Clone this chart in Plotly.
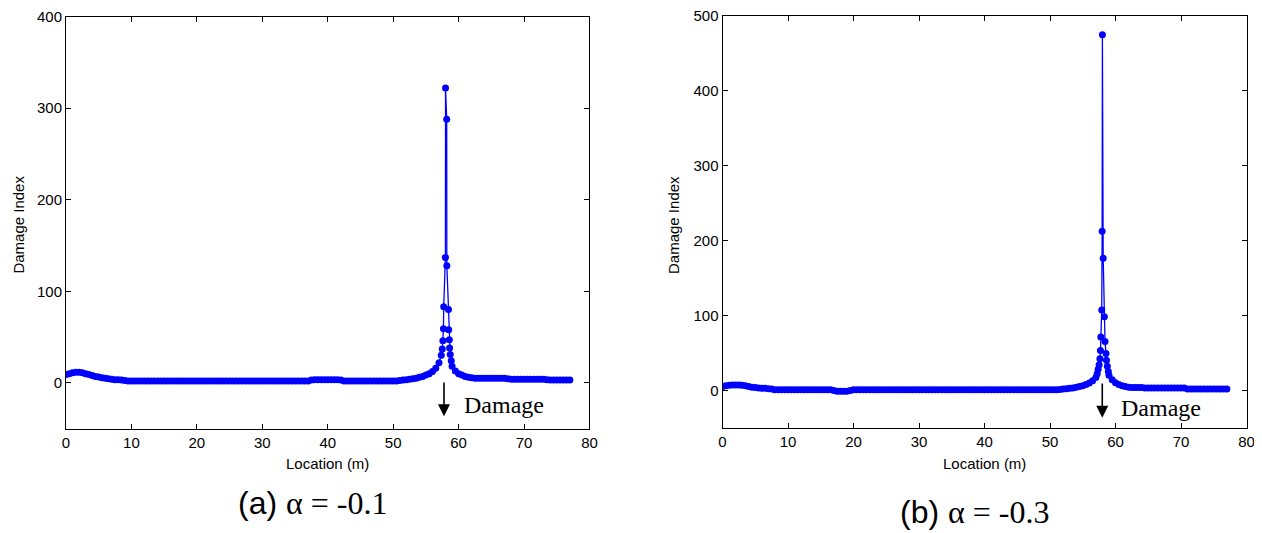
import plotly.graph_objects as go

# ---------------- data ----------------
# sample locations (m) before and after the damage peak
loc_pre = [0, 0.5, 1, 1.5, 2, 2.5, 3, 3.5, 4, 4.5, 5, 5.5, 6, 6.5, 7, 7.5, 8, 8.5, 9, 9.5,
           10, 10.5, 11, 11.5, 12, 12.5, 13, 13.5, 14, 14.5, 15, 15.5, 16, 16.5, 17, 17.5, 18, 18.5, 19, 19.5,
           20, 20.5, 21, 21.5, 22, 22.5, 23, 23.5, 24, 24.5, 25, 25.5, 26, 26.5, 27, 27.5, 28, 28.5, 29, 29.5,
           30, 30.5, 31, 31.5, 32, 32.5, 33, 33.5, 34, 34.5, 35, 35.5, 36, 36.5, 37, 37.5, 38, 38.5, 39, 39.5,
           40, 40.5, 41, 41.5, 42, 42.5, 43, 43.5, 44, 44.5, 45, 45.5, 46, 46.5, 47, 47.5, 48, 48.5, 49, 49.5,
           50, 50.5, 51, 51.5, 52, 52.5, 53, 53.5, 54, 54.5, 55, 55.5, 56, 56.5, 57]
loc_post = [59, 59.5, 60, 60.5, 61, 61.5, 62, 62.5, 63, 63.5, 64, 64.5, 65, 65.5, 66, 66.5, 67, 67.5,
            68, 68.5, 69, 69.5, 70, 70.5, 71, 71.5, 72, 72.5, 73, 73.5, 74, 74.5, 75, 75.5, 76, 76.5, 77]

# (a) alpha = -0.1
di_a_pre = [9, 10, 11, 11.5, 11.5, 11, 10, 9, 8, 7, 6.5, 5.5, 5, 4.5, 4, 3.5, 3.5, 3, 2.5, 2,
            2, 2, 2, 2, 2, 2, 2, 2, 2, 2, 2, 2, 2, 2, 2, 2, 2, 2, 2, 2,
            2, 2, 2, 2, 2, 2, 2, 2, 2, 2, 2, 2, 2, 2, 2, 2, 2, 2, 2, 2,
            2, 2, 2, 2, 2, 2, 2, 2, 2, 2, 2, 2, 2, 2, 2, 3, 3.5, 3.5, 3.5, 3.5,
            3.5, 3.5, 3.5, 3.5, 3, 2, 2, 2, 2, 2, 2, 2, 2, 2, 2, 2, 2, 2, 2, 2,
            2, 2, 2.5, 3, 3.5, 4, 4.5, 5, 6, 7, 8.5, 10, 12.5, 16, 22]
peak_loc_a = [57.35, 57.5, 57.6, 57.68, 57.72, 57.98, 58.0, 58.18, 58.2, 58.45, 58.48, 58.58, 58.62, 58.72, 58.88]
peak_di_a = [30, 37, 46, 59, 83, 137, 322, 288, 128, 80, 58, 47, 38, 31, 24]
di_a_post = [18, 13, 10, 8.5, 7, 6, 5.5, 5, 5, 5, 5, 5, 5, 5, 5, 5, 5, 4.5,
             4, 4, 4, 4, 4, 4, 4, 4, 4, 4, 4, 3.5, 3, 3, 3, 3, 3, 3, 3]

# (b) alpha = -0.3
di_b_pre = [6, 7, 7.5, 8, 8, 8, 7.5, 7, 6, 5, 4.5, 4, 3.5, 3.5, 3, 2.5, 1.5, 1.5, 1.5, 1.5,
            1.5, 1.5, 1.5, 1.5, 1.5, 1.5, 1.5, 1.5, 1.5, 1.5, 1.5, 1.5, 1.5, 1.5, 0.5, -0.5, -0.5, -0.5, -0.5, 0.5,
            1.5, 1.5, 1.5, 1.5, 1.5, 1.5, 1.5, 1.5, 1.5, 1.5, 1.5, 1.5, 1.5, 1.5, 1.5, 1.5, 1.5, 1.5, 1.5, 1.5,
            1.5, 1.5, 1.5, 1.5, 1.5, 1.5, 1.5, 1.5, 1.5, 1.5, 1.5, 1.5, 1.5, 1.5, 1.5, 1.5, 1.5, 1.5, 1.5, 1.5,
            1.5, 1.5, 1.5, 1.5, 1.5, 1.5, 1.5, 1.5, 1.5, 1.5, 1.5, 1.5, 1.5, 1.5, 1.5, 1.5, 1.5, 1.5, 1.5, 1.5,
            1.5, 1.5, 1.5, 2, 2.5, 3, 3.5, 4, 5, 6, 7, 8.5, 10.5, 13.5, 18]
peak_loc_b = [57.2, 57.35, 57.5, 57.62, 57.7, 57.76, 57.9, 57.96, 58.0, 58.12, 58.3, 58.4, 58.55, 58.62, 58.75, 58.9]
peak_di_b = [23, 29, 35, 43, 54, 72, 108, 213, 475, 177, 99, 66, 50, 41, 33, 26]
di_b_post = [21, 15, 11, 8.5, 7, 6, 5, 4.5, 4.5, 4.5, 4.5,
             4, 4, 4, 4, 4, 4, 4, 4, 4, 4, 4, 4, 4,
             2.5, 2.5, 2.5, 2.5, 2.5, 2.5, 2.5, 2.5, 2.5, 2.5, 2.5, 2.5, 2.5]

x_ticks = [0, 10, 20, 30, 40, 50, 60, 70, 80]
y_ticks_a = [0, 100, 200, 300, 400]
y_ticks_b = [0, 100, 200, 300, 400, 500]

damage_loc_a = 57.76
damage_loc_b = 57.98

# ---------------- figure ----------------
BLUE = "#0000FF"
SANS = "Arial, Liberation Sans, sans-serif"
SERIF = "Times New Roman, Liberation Serif, serif"
W, H = 1254, 525   # page has an 8 px body margin; figure fills the rest of the window

x_a = loc_pre + peak_loc_a + loc_post
y_a = di_a_pre + peak_di_a + di_a_post
x_b = loc_pre + peak_loc_b + loc_post
y_b = di_b_pre + peak_di_b + di_b_post

fig = go.Figure()
fig.add_trace(go.Scatter(x=x_a, y=y_a, mode="lines+markers", xaxis="x", yaxis="y",
                         line=dict(color=BLUE, width=1.3),
                         marker=dict(color=BLUE, size=7), showlegend=False))
fig.add_trace(go.Scatter(x=x_b, y=y_b, mode="lines+markers", xaxis="x2", yaxis="y2",
                         line=dict(color=BLUE, width=1.3),
                         marker=dict(color=BLUE, size=7), showlegend=False))

axis_common = dict(showline=True, linecolor="black", linewidth=1, mirror="ticks",
                   ticks="inside", ticklen=5, tickcolor="black", tickwidth=1,
                   showgrid=False, zeroline=False, automargin=False,
                   ticklabeloverflow="allow",
                   tickfont=dict(family=SANS, size=15, color="black"))

fig.update_layout(
    width=W, height=H,
    margin=dict(l=0, r=0, t=0, b=0),
    paper_bgcolor="white", plot_bgcolor="white",
    font=dict(family=SANS, color="black"),
    xaxis=dict(domain=[0.046252, 0.463716], range=[0, 80], tickvals=x_ticks, anchor="y", **axis_common),
    yaxis=dict(domain=[0.198857, 0.983429], range=[-50, 400], tickvals=y_ticks_a, anchor="x", **axis_common),
    xaxis2=dict(domain=[0.569777, 0.987640], range=[0, 80], tickvals=x_ticks, anchor="y2", **axis_common),
    yaxis2=dict(domain=[0.199048, 0.984762], range=[-50, 500], tickvals=y_ticks_b, anchor="x2", **axis_common),
)

# axis titles
for xc in (0.25498, 0.77871):
    fig.add_annotation(x=xc, y=0.13333, xref="paper", yref="paper", text="Location (m)",
                       showarrow=False, xanchor="center", yanchor="middle",
                       font=dict(family=SANS, size=15, color="black"))
for xc in (0.008453, 0.53110):
    fig.add_annotation(x=xc, y=0.58667, xref="paper", yref="paper", text="Damage Index",
                       showarrow=False, xanchor="center", yanchor="middle", textangle=-90,
                       font=dict(family=SANS, size=15, color="black"))

# damage arrows
fig.add_annotation(x=damage_loc_a, y=-36.4, ax=damage_loc_a, ay=2, xref="x", yref="y",
                   axref="x", ayref="y", showarrow=True, arrowhead=2, arrowsize=1.5,
                   arrowwidth=1.6, arrowcolor="black", text="")
fig.add_annotation(x=damage_loc_b, y=-35.6, ax=damage_loc_b, ay=12, xref="x2", yref="y2",
                   axref="x2", ayref="y2", showarrow=True, arrowhead=2, arrowsize=1.5,
                   arrowwidth=1.6, arrowcolor="black", text="")
fig.add_annotation(x=66.95, y=-24.4, xref="x", yref="y", text="Damage", showarrow=False,
                   xanchor="center", yanchor="middle",
                   font=dict(family=SERIF, size=24, color="black"))
fig.add_annotation(x=66.9, y=-23.1, xref="x2", yref="y2", text="Damage", showarrow=False,
                   xanchor="center", yanchor="middle",
                   font=dict(family=SERIF, size=24, color="black"))

# panel captions
fig.add_annotation(x=0.24322, y=0.05714, xref="paper", yref="paper", showarrow=False,
                   xanchor="center", yanchor="middle",
                   text='(a) <span style="font-family:Times New Roman, Liberation Serif, serif">α = -0.1</span>',
                   font=dict(family=SANS, size=32, color="black"))
fig.add_annotation(x=0.77113, y=0.04, xref="paper", yref="paper", showarrow=False,
                   xanchor="center", yanchor="middle",
                   text='(b) <span style="font-family:Times New Roman, Liberation Serif, serif">α = -0.3</span>',
                   font=dict(family=SANS, size=32, color="black"))

fig.write_html("out.html")
